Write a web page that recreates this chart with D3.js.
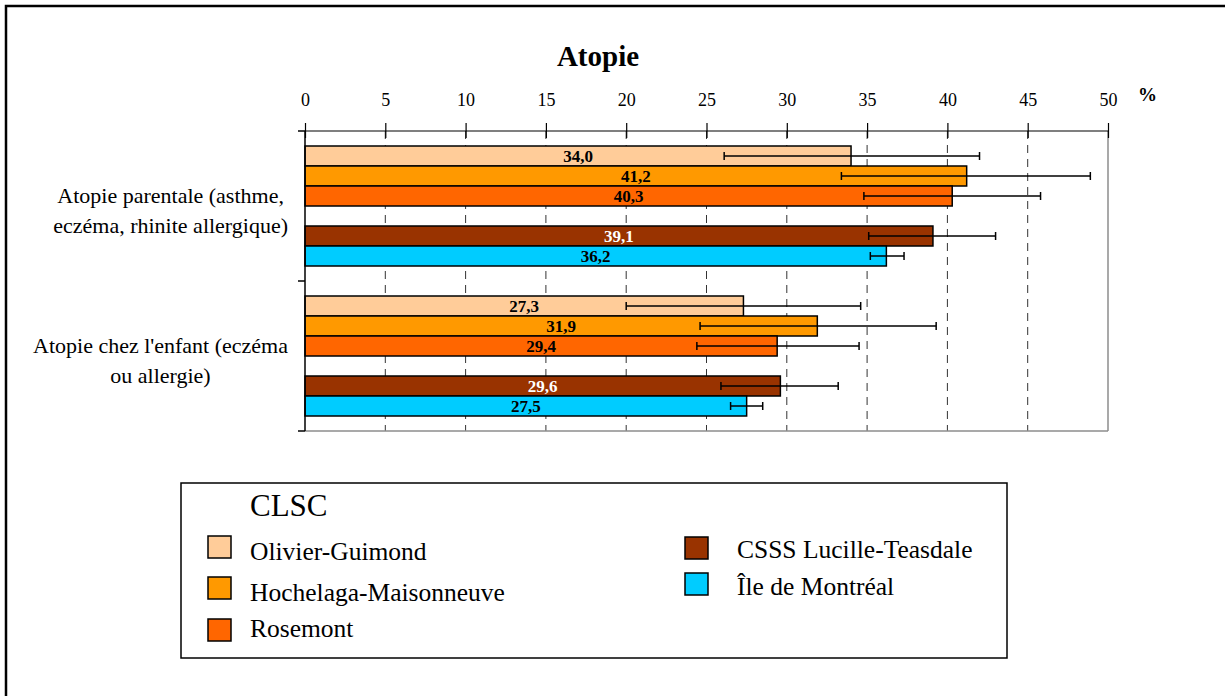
<!DOCTYPE html>
<html><head><meta charset="utf-8">
<script src="https://cdn.jsdelivr.net/npm/d3@7"></script>
<style>
html,body{margin:0;padding:0;background:#fff;}
svg{display:block;}
</style>
</head><body>
<svg id="chart" width="1225" height="696" font-family="Liberation Serif, DejaVu Serif, serif"></svg>
<script>
const title = "Atopie";
const unitLabel = "%";
const categoryLines = [
  ["Atopie parentale (asthme,", "eczéma, rhinite allergique)"],
  ["Atopie chez l'enfant (eczéma", "ou allergie)"]
];
const legendTitle = "CLSC";
const seriesNames = ["Olivier-Guimond", "Hochelaga-Maisonneuve", "Rosemont", "CSSS Lucille-Teasdale", "Île de Montréal"];
const seriesColors = ["#FFCC99", "#FF9900", "#FF6600", "#993300", "#00CCFF"];
const labelColors = ["#000", "#000", "#000", "#fff", "#000"];
// values per series: [parental, child]
const olivierValues = [34.0, 27.3];
const hochelagaValues = [41.2, 31.9];
const rosemontValues = [40.3, 29.4];
const csssValues = [39.1, 29.6];
const ileValues = [36.2, 27.5];
// confidence intervals
const olivierLow = [26.1, 20.0], olivierHigh = [42.0, 34.6];
const hochelagaLow = [33.4, 24.6], hochelagaHigh = [48.9, 39.3];
const rosemontLow = [34.8, 24.4], rosemontHigh = [45.8, 34.5];
const csssLow = [35.1, 25.9], csssHigh = [43.0, 33.2];
const ileLow = [35.2, 26.5], ileHigh = [37.3, 28.5];
const tickValues = [0, 5, 10, 15, 20, 25, 30, 35, 40, 45, 50];

const allValues = [olivierValues, hochelagaValues, rosemontValues, csssValues, ileValues];
const allLow = [olivierLow, hochelagaLow, rosemontLow, csssLow, ileLow];
const allHigh = [olivierHigh, hochelagaHigh, rosemontHigh, csssHigh, ileHigh];
const slotKeys = [seriesNames[0], seriesNames[1], seriesNames[2], "_gap", seriesNames[3], seriesNames[4]];

const records = [];
categoryLines.forEach((c, ci) => {
  seriesNames.forEach((s, si) => {
    records.push({ci, si, s, v: allValues[si][ci], lo: allLow[si][ci], hi: allHigh[si][ci]});
  });
});

const svg = d3.select("#chart");
const FONT = "Liberation Serif, DejaVu Serif, serif";

svg.append("rect").attr("x", 6).attr("y", 6).attr("width", 1240).attr("height", 720)
  .attr("fill", "none").attr("stroke", "#000").attr("stroke-width", 2.5);

const pLeft = 305, pRight = 1108, pTop = 131, pBottom = 431;
const x = d3.scaleLinear().domain([0, 50]).range([pLeft, pRight]);
const y0 = d3.scaleBand().domain(d3.range(categoryLines.length)).range([pTop, pBottom]).padding(0);
const y1 = d3.scaleBand().domain(slotKeys).range([0, y0.bandwidth()]).paddingInner(0).paddingOuter(0.75);

svg.append("text").attr("x", 598).attr("y", 66).attr("text-anchor", "middle")
  .attr("font-family", FONT).attr("font-size", 29).attr("font-weight", "bold").text(title);

svg.append("g").selectAll("line").data(tickValues.filter(t => t > 0 && t < 50)).join("line")
  .attr("x1", d => x(d)).attr("x2", d => x(d)).attr("y1", pTop).attr("y2", pBottom)
  .attr("stroke", "#333").attr("stroke-width", 1).attr("stroke-dasharray", "8,6");

svg.append("line").attr("x1", x(50)).attr("x2", x(50)).attr("y1", pTop).attr("y2", pBottom)
  .attr("stroke", "#8c8c8c").attr("stroke-width", 1.5);
svg.append("line").attr("x1", pLeft).attr("x2", x(50)).attr("y1", pBottom).attr("y2", pBottom)
  .attr("stroke", "#8c8c8c").attr("stroke-width", 1.5);

const bars = svg.append("g");
bars.selectAll("rect").data(records).join("rect")
  .attr("x", x(0))
  .attr("y", d => y0(d.ci) + y1(d.s))
  .attr("width", d => x(d.v) - x(0))
  .attr("height", y1.bandwidth())
  .attr("fill", d => seriesColors[d.si])
  .attr("stroke", "#000").attr("stroke-width", 1.5);

bars.selectAll("text").data(records).join("text")
  .attr("x", d => (x(0) + x(d.v)) / 2)
  .attr("y", d => y0(d.ci) + y1(d.s) + y1.bandwidth() / 2 + 6)
  .attr("text-anchor", "middle").attr("font-family", FONT).attr("font-size", 17).attr("font-weight", "bold")
  .attr("fill", d => labelColors[d.si])
  .text(d => d.v.toFixed(1).replace(".", ","));

const eb = svg.append("g").attr("stroke", "#000").attr("stroke-width", 1.5);
records.forEach(d => {
  const cy = y0(d.ci) + y1(d.s) + y1.bandwidth() / 2;
  eb.append("line").attr("x1", x(d.lo)).attr("x2", x(d.hi)).attr("y1", cy).attr("y2", cy);
  eb.append("line").attr("x1", x(d.lo)).attr("x2", x(d.lo)).attr("y1", cy - 4).attr("y2", cy + 4);
  eb.append("line").attr("x1", x(d.hi)).attr("x2", x(d.hi)).attr("y1", cy - 4).attr("y2", cy + 4);
});

const xAxis = svg.append("g").attr("transform", `translate(0,${pTop})`)
  .call(d3.axisTop(x).tickValues(tickValues).tickSize(8).tickPadding(17).tickFormat(d3.format("d")));
xAxis.attr("font-family", FONT);
xAxis.select(".domain").attr("stroke", "#000").attr("stroke-width", 1.2).attr("d", `M${pLeft},0H${pRight}`);
xAxis.selectAll(".tick line").attr("y1", 7).attr("y2", -8).attr("stroke", "#000").attr("stroke-width", 1.2);
xAxis.selectAll(".tick text").attr("font-family", FONT).attr("font-size", 18).attr("fill", "#000");
svg.append("text").attr("x", 1138).attr("y", 101).attr("font-family", FONT).attr("font-size", 19).attr("font-weight", "bold").text(unitLabel);

svg.append("line").attr("x1", pLeft).attr("x2", pLeft).attr("y1", pTop).attr("y2", pBottom)
  .attr("stroke", "#000").attr("stroke-width", 1.5);
const catEdges = [pTop].concat(d3.range(categoryLines.length).map(i => y0(i) + y0.bandwidth()));
svg.append("g").selectAll("line").data(catEdges).join("line")
  .attr("x1", pLeft - 7).attr("x2", pLeft).attr("y1", d => d).attr("y2", d => d)
  .attr("stroke", "#000").attr("stroke-width", 1.5);

categoryLines.forEach((lines, ci) => {
  const g = svg.append("g").attr("font-family", FONT);
  const cy = y0(ci) + y0.bandwidth() / 2;
  const texts = lines.map((l, li) => g.append("text").attr("font-size", 22)
    .attr("y", cy - 3 + li * 30).attr("text-anchor", "middle").text(l));
  const maxW = d3.max(texts, t => t.node().getComputedTextLength());
  texts.forEach(t => t.attr("x", 288 - maxW / 2));
});

const lg = svg.append("g").attr("font-family", FONT);
lg.append("rect").attr("x", 181).attr("y", 483).attr("width", 826).attr("height", 175)
  .attr("fill", "#fff").attr("stroke", "#000").attr("stroke-width", 1.5);
lg.append("text").attr("x", 250).attr("y", 516).attr("font-size", 31).text(legendTitle);
const legendPos = [
  {sx: 208, sy: 536, tx: 250, ty: 560},
  {sx: 208, sy: 577, tx: 250, ty: 601},
  {sx: 208, sy: 619, tx: 250, ty: 637},
  {sx: 685, sy: 537, tx: 737, ty: 558},
  {sx: 685, sy: 573, tx: 737, ty: 595}
];
seriesNames.forEach((s, i) => {
  const p = legendPos[i];
  lg.append("rect").attr("x", p.sx).attr("y", p.sy).attr("width", 23).attr("height", 22)
    .attr("fill", seriesColors[i]).attr("stroke", "#000").attr("stroke-width", 1.5);
  lg.append("text").attr("x", p.tx).attr("y", p.ty).attr("font-size", 25.5).text(s);
});
</script>
</body></html>
